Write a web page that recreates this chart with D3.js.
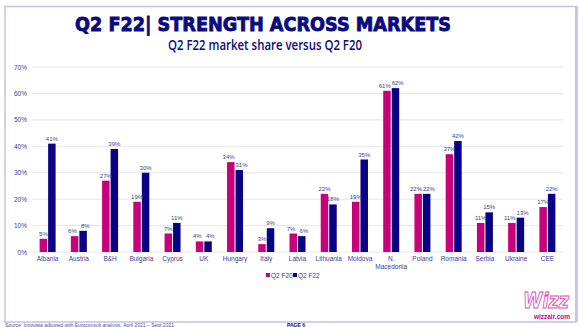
<!DOCTYPE html>
<html><head><meta charset="utf-8">
<script src="https://cdn.jsdelivr.net/npm/d3@7"></script>
<style>html,body{margin:0;padding:0;background:#fff;}svg{display:block;}</style>
</head><body>
<svg id="c" width="580" height="327"></svg>
<script>
const categories = ["Albania","Austria","B&H","Bulgaria","Cyprus","UK","Hungary","Italy","Latvia","Lithuania","Moldova","N. Macedonia","Poland","Romania","Serbia","Ukraine","CEE"];
const q2f20 = [5,6,27,19,7,4,34,3,7,22,19,61,22,37,11,11,17];
const q2f22 = [41,8,39,30,11,4,31,9,6,18,35,62,22,42,15,13,22];
const seriesNames = ["Q2 F20","Q2 F22"];
const yTicks = [0,10,20,30,40,50,60,70];

const colors = ["#c8007c","#0a0284"];
const navy = "#0b0a80";
const svg = d3.select("#c");

// frame
svg.append("rect").attr("x",5).attr("y",6.5).attr("width",571).attr("height",315.5)
  .attr("fill","none").attr("stroke","#c4c0e6").attr("stroke-width",1.5);
svg.append("line").attr("x1",576.5).attr("x2",576.5).attr("y1",6).attr("y2",322)
  .attr("stroke","#c4c0e6").attr("stroke-width",2.5);

// titles
svg.append("text").attr("x",263).attr("y",31).attr("text-anchor","middle")
  .attr("font-family","'DejaVu Sans', sans-serif").attr("font-weight","bold").attr("font-size",20)
  .attr("fill",navy).attr("stroke",navy).attr("stroke-width",0.9)
  .attr("textLength",376).attr("lengthAdjust","spacingAndGlyphs")
  .text("Q2 F22| STRENGTH ACROSS MARKETS");
svg.append("text").attr("x",265).attr("y",50).attr("text-anchor","middle")
  .attr("font-family","'Open Sans', sans-serif").attr("font-weight","600").attr("font-size",13.5)
  .attr("fill",navy).attr("textLength",194).attr("lengthAdjust","spacingAndGlyphs")
  .text("Q2 F22 market share versus Q2 F20");

const x = d3.scaleBand().domain(categories).range([32,563]).padding(0);
const xs = d3.scaleBand().domain(seriesNames).range([-8,8]).paddingInner(0.12);
const y = d3.scaleLinear().domain([0,70]).range([252,67]);

// grid
svg.append("g").selectAll("line").data(yTicks).join("line")
  .attr("x1",32).attr("x2",563).attr("y1",d=>y(d)).attr("y2",d=>y(d))
  .attr("stroke","#e6e6e6").attr("stroke-width",1);
// y labels
svg.append("g").selectAll("text").data(yTicks).join("text")
  .attr("x",27).attr("y",d=>y(d)+2.5).attr("text-anchor","end")
  .attr("font-family","'Liberation Sans', Arial, sans-serif").attr("font-size",6.5)
  .attr("fill","#3c3c9a").text(d=>d+"%");

const data = categories.map((c,i)=>({c, vals:[q2f20[i],q2f22[i]]}));
const groups = svg.append("g").selectAll("g").data(data).join("g")
  .attr("transform",d=>`translate(${x(d.c)+x.bandwidth()/2},0)`);
groups.selectAll("rect").data(d=>d.vals.map((v,j)=>({v,s:seriesNames[j],j}))).join("rect")
  .attr("x",d=>xs(d.s)).attr("width",xs.bandwidth())
  .attr("y",d=>y(d.v)).attr("height",d=>y(0)-y(d.v))
  .attr("fill",d=>colors[d.j]);
groups.selectAll("text.v").data(d=>d.vals.map((v,j)=>({v,s:seriesNames[j],j,close:Math.abs(d.vals[0]-d.vals[1])<4}))).join("text")
  .attr("class","v")
  .attr("x",d=>xs(d.s)+xs.bandwidth()/2 + (d.close ? (d.j===0?-2.2:2.2) : 0)).attr("y",d=>y(d.v)-3)
  .attr("text-anchor","middle")
  .attr("font-family","'Liberation Sans', Arial, sans-serif").attr("font-size",6)
  .attr("fill","#3c3c9a").text(d=>d.v+"%");

// category labels
groups.each(function(d){
  const lines = d.c==="N. Macedonia" ? ["N.","Macedonia"] : [d.c];
  const t = d3.select(this).append("text").attr("text-anchor","middle")
    .attr("font-family","'Liberation Sans', Arial, sans-serif").attr("font-size",6.5)
    .attr("fill","#3c3c9a");
  lines.forEach((l,k)=>t.append("tspan").attr("x",0).attr("y",261+k*7.5).text(l));
});

// legend
const lg = svg.append("g").attr("transform","translate(266,276)");
seriesNames.forEach((s,i)=>{
  const g = lg.append("g").attr("transform",`translate(${i*27},0)`);
  g.append("rect").attr("x",0).attr("y",-3).attr("width",4).attr("height",4).attr("fill",colors[i]);
  g.append("text").attr("x",5).attr("y",1.5).attr("font-family","'Liberation Sans', Arial, sans-serif")
    .attr("font-size",6.5).attr("fill","#3c3c9a").text(s);
});

// logo
svg.append("text").attr("x",546).attr("y",308).attr("text-anchor","middle")
  .attr("font-family","'DejaVu Sans', sans-serif").attr("font-weight","bold").attr("font-style","italic")
  .attr("font-size",21).attr("fill","#fff").attr("stroke","#d94fb8").attr("stroke-width",1)
  .attr("textLength",46).attr("lengthAdjust","spacingAndGlyphs").text("Wizz");
svg.append("text").attr("x",570).attr("y",318.5).attr("text-anchor","end")
  .attr("font-family","'Liberation Sans', Arial, sans-serif").attr("font-weight","bold")
  .attr("font-size",6.5).attr("fill","#c8007c").text("wizzair.com");

// footer
svg.append("text").attr("x",5).attr("y",326.5).attr("font-family","'Liberation Sans', Arial, sans-serif")
  .attr("font-size",5).attr("fill","#4a4aa0").text("Source: Innovata adjusted with Euroconsult analysis, April 2021 – Sept 2021");
svg.append("text").attr("x",287).attr("y",326.5).attr("font-family","'Liberation Sans', Arial, sans-serif")
  .attr("font-weight","bold").attr("font-size",5).attr("fill",navy).text("PAGE 6");
</script>
</body></html>
